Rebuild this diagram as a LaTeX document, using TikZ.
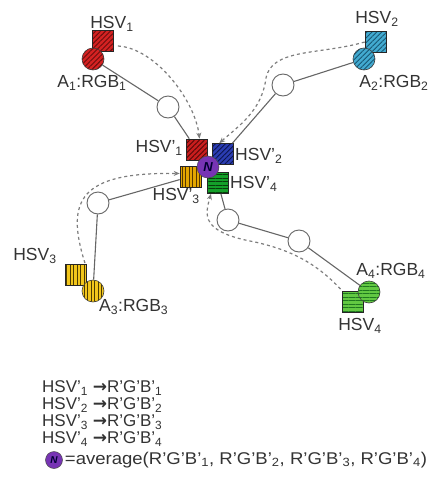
\documentclass[tikz,border=0pt]{standalone}
\usepackage{fontspec}
\setmainfont{Liberation Sans}
\newfontfamily\arrowfont{DejaVu Sans}
\usetikzlibrary{positioning,arrows.meta,patterns.meta}

\definecolor{agentred}{HTML}{D42222}
\definecolor{agentreddk}{HTML}{6A0E0E}
\definecolor{agentblue}{HTML}{42AAD0}
\definecolor{agentbluedk}{HTML}{175673}
\definecolor{agentyellow}{HTML}{F2C61C}
\definecolor{agentyellowdk}{HTML}{4E3C00}
\definecolor{agentgreen}{HTML}{62C842}
\definecolor{agentgreendk}{HTML}{1F781F}
\definecolor{meanred}{HTML}{C81E1E}
\definecolor{meanreddk}{HTML}{500808}
\definecolor{meanblue}{HTML}{2B3DB2}
\definecolor{meanbluedk}{HTML}{0C144E}
\definecolor{meanyellow}{HTML}{E2A600}
\definecolor{meanyellowdk}{HTML}{553600}
\definecolor{meangreen}{HTML}{14A02A}
\definecolor{meangreendk}{HTML}{073F0B}
\definecolor{avgpurple}{HTML}{7734B4}
\definecolor{wire}{HTML}{666666}
\definecolor{ink}{HTML}{333333}

\begin{document}
\begin{tikzpicture}[
    x=1pt, y=-1pt,
    hatch/.style n args={3}{preaction={fill=#1}, pattern={Lines[angle=#3, distance=3.5pt, line width=0.9pt]}, pattern color=#2},
    hsvbox/.style={rectangle, draw=black!85, line width=0.6pt, minimum size=21pt, inner sep=0pt},
    rgbdot/.style={circle, draw=black!75, line width=0.6pt, minimum size=22pt, inner sep=0pt},
    waypoint/.style={circle, draw=wire, fill=white, line width=0.9pt, minimum size=22pt, inner sep=0pt},
    avgdot/.style={circle, draw=black!70, fill=avgpurple, line width=0.5pt, inner sep=0pt, font=\bfseries\itshape\fontsize{13}{13}\selectfont, text=black!80!blue},
    link/.style={draw=wire, line width=1.1pt},
    route/.style={draw=wire!85, line width=1.2pt, dash pattern=on 3pt off 3pt, -{Stealth[length=6pt, width=5pt]}},
    lbl/.style={font=\fontsize{17.5}{19}\selectfont, text=ink, inner sep=1pt},
    legend/.style={font=\fontsize{17}{19}\selectfont, text=ink, inner sep=0pt, anchor=west}
]
\useasboundingbox (0,0) rectangle (431,493);

% Agenten: HSV-Quadrat und RGB-Kreis
\node[hsvbox, hatch={agentred}{agentreddk}{45}] (s1) at (103,41) {};
\node[rgbdot, hatch={agentred}{agentreddk}{45}] (c1) at (93,59) {};
\node[hsvbox, hatch={agentblue}{agentbluedk}{45}] (s2) at (375.5,42) {};
\node[rgbdot, hatch={agentblue}{agentbluedk}{45}] (c2) at (364,59) {};
\node[hsvbox, hatch={agentyellow}{agentyellowdk}{90}] (s3) at (76,275) {};
\node[rgbdot, hatch={agentyellow}{agentyellowdk}{90}] (c3) at (93,291) {};
\node[hsvbox, hatch={agentgreen}{agentgreendk}{0}] (s4) at (352.5,302) {};
\node[rgbdot, hatch={agentgreen}{agentgreendk}{0}] (c4) at (369,292) {};

% Zwischenstationen
\node[waypoint] (w1) at (168,107) {};
\node[waypoint] (w2) at (283,85) {};
\node[waypoint] (w3) at (98,203) {};
\node[waypoint] (w4a) at (228,220) {};
\node[waypoint] (w4b) at (299,241) {};

% Mitte: HSV'-Quadrate und Mittelwert N
\node[hsvbox, hatch={meanred}{meanreddk}{45}] (p1) at (196.5,149.5) {};
\node[hsvbox, hatch={meanblue}{meanbluedk}{45}] (p2) at (223,154) {};
\node[hsvbox, hatch={meanyellow}{meanyellowdk}{90}] (p3) at (190.5,176.5) {};
\node[hsvbox, hatch={meangreen}{meangreendk}{0}] (p4) at (218,183) {};
\node[avgdot, minimum size=22pt] (navg) at (208,167) {N};

% Beschriftungen
\node[lbl] (t1) at (112,24) {HSV\textsubscript{1}};
\node[lbl] (r1) at (92,83) {A\textsubscript{1}:RGB\textsubscript{1}};
\node[lbl] (t2) at (377,19) {HSV\textsubscript{2}};
\node[lbl] (r2) at (394,83) {A\textsubscript{2}:RGB\textsubscript{2}};
\node[lbl] (t3) at (35,256) {HSV\textsubscript{3}};
\node[lbl, anchor=west] (r3) at (98,307) {A\textsubscript{3}:RGB\textsubscript{3}};
\node[lbl] (r4) at (391,271) {A\textsubscript{4}:RGB\textsubscript{4}};
\node[lbl] (t4) at (360,326) {HSV\textsubscript{4}};
\node[lbl, anchor=east] (q1) at (184,148) {HSV’\textsubscript{1}};
\node[lbl, anchor=west] (q2) at (234,156) {HSV’\textsubscript{2}};
\node[lbl, anchor=east] (q3) at (201,196) {HSV’\textsubscript{3}};
\node[lbl, anchor=west] (q4) at (229,184) {HSV’\textsubscript{4}};

% Verbindungen der Agenten
\draw[link] (c1) -- (w1) -- (p1);
\draw[link] (c2) -- (w2) -- (p2);
\draw[link] (c3) -- (w3) -- (p3);
\draw[link] (p4) -- (w4a) -- (w4b) -- (c4);

% Wege der HSV-Werte (gestrichelt)
\draw[route] ([shift={(4,5)}]s1.east) .. controls (155,48) and (195,100) .. ([xshift=3pt]p1.north);
\draw[route] (s2.west) .. controls (320,55) and (272,48) .. (266,78) .. controls (262,110) and (240,125) .. ([xshift=7pt]p2.north west);
\draw[route] ([shift={(-2,-1)}]s3.north east) .. controls (65,200) and (80,172) .. ([yshift=3pt]p3.west);
\draw[route] ([shift={(-1,-2)}]s4.north west) .. controls (315,262) and (290,250) .. (255,242) .. controls (200,232) and (205,215) .. ([xshift=-7pt]p4.south);

% Legende
\node[legend] (l1) at (42,388) {HSV’\textsubscript{1} {\arrowfont\bfseries →}R’G’B’\textsubscript{1}};
\node[legend] (l2) at (42,405) {HSV’\textsubscript{2} {\arrowfont\bfseries →}R’G’B’\textsubscript{2}};
\node[legend] (l3) at (42,422) {HSV’\textsubscript{3} {\arrowfont\bfseries →}R’G’B’\textsubscript{3}};
\node[legend] (l4) at (42,439) {HSV’\textsubscript{4} {\arrowfont\bfseries →}R’G’B’\textsubscript{4}};
\node[avgdot, minimum size=17pt, font=\bfseries\itshape\fontsize{10}{10}\selectfont] (nkey) at (54,460) {N};
\node[legend, right=2pt of nkey] (l5) {\scalebox{1.09}[1]{=average(R’G’B’\textsubscript{1}, R’G’B’\textsubscript{2}, R’G’B’\textsubscript{3}, R’G’B’\textsubscript{4})}};

\end{tikzpicture}
\end{document}
